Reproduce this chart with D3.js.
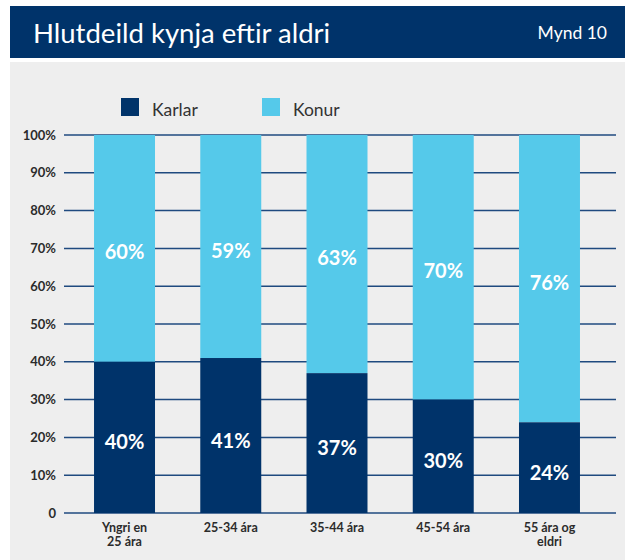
<!DOCTYPE html>
<html>
<head>
<meta charset="utf-8">
<script src="https://cdn.jsdelivr.net/npm/d3@7"></script>
<style>
  body { margin: 0; background: #fff; }
  text { font-family: Lato, "Open Sans", sans-serif; }
</style>
</head>
<body>
<script>
    // chart data
    var categories = ["Yngri en|25 ára", "25-34 ára", "35-44 ára", "45-54 ára", "55 ára og|eldri"];
    var karlar = [40, 41, 37, 30, 24];
    var konur = [60, 59, 63, 70, 76];
    var yTicks = [0, 10, 20, 30, 40, 50, 60, 70, 80, 90, 100];
    var seriesNames = ["Karlar", "Konur"];

    var navy = "#00336a", light = "#55c9ea";
    var w = 625, h = 560;

    var svg = d3.select("body").append("svg")
        .attr("width", w)
        .attr("height", h);

    // header band
    svg.append("rect").attr("x", 10).attr("y", 6).attr("width", 615).attr("height", 52).attr("fill", navy);
    svg.append("text").attr("x", 33).attr("y", 43).attr("fill", "#fff")
        .style("font-size", "27.5px").text("Hlutdeild kynja eftir aldri");
    svg.append("text").attr("x", 607).attr("y", 39).attr("fill", "#fff")
        .attr("text-anchor", "end").style("font-size", "17.5px").text("Mynd 10");

    // gray panel
    svg.append("rect").attr("x", 10).attr("y", 62).attr("width", 615).attr("height", 498).attr("fill", "#eeeeee");

    var x = d3.scaleBand().domain(categories).range([71.4, 602.6]).paddingInner(0.426).paddingOuter(0.213);
    var y = d3.scaleLinear().domain([0, 100]).range([513, 135]);

    // gridlines
    svg.append("g").selectAll("line").data(yTicks).enter().append("line")
        .attr("x1", 64).attr("x2", 616)
        .attr("y1", function (d) { return y(d); })
        .attr("y2", function (d) { return y(d); })
        .attr("stroke", "#1f4a7f").attr("stroke-width", 1.5);

    // y axis labels
    svg.append("g").selectAll("text").data(yTicks).enter().append("text")
        .attr("x", 56)
        .attr("y", function (d) { return y(d) + 4.5; })
        .attr("text-anchor", "end")
        .attr("fill", "#2b2b2b")
        .style("font-size", "13px").style("font-weight", "bold")
        .text(function (d) { return d == 0 ? "0" : d + "%"; });

    var rows = categories.map(function (c, i) { return {cat: c, k: karlar[i], f: konur[i]}; });

    var bars = svg.append("g").selectAll("g").data(rows).enter().append("g");

    bars.append("rect")
        .attr("x", function (d) { return x(d.cat); })
        .attr("width", x.bandwidth())
        .attr("y", function (d) { return y(d.k + d.f); })
        .attr("height", function (d) { return y(d.k) - y(d.k + d.f); })
        .attr("fill", light);

    bars.append("rect")
        .attr("x", function (d) { return x(d.cat); })
        .attr("width", x.bandwidth())
        .attr("y", function (d) { return y(d.k); })
        .attr("height", function (d) { return y(0) - y(d.k); })
        .attr("fill", navy);

    bars.append("text")
        .attr("x", function (d) { return x(d.cat) + x.bandwidth() / 2; })
        .attr("y", function (d) { return (y(d.k) + y(d.k + d.f)) / 2 + 11; })
        .attr("text-anchor", "middle").attr("fill", "#fff")
        .style("font-size", "20px").style("font-weight", "bold")
        .text(function (d) { return d.f + "%"; });

    bars.append("text")
        .attr("x", function (d) { return x(d.cat) + x.bandwidth() / 2; })
        .attr("y", function (d) { return (y(0) + y(d.k)) / 2 + 12; })
        .attr("text-anchor", "middle").attr("fill", "#fff")
        .style("font-size", "20px").style("font-weight", "bold")
        .text(function (d) { return d.k + "%"; });

    // category labels
    var xl = svg.append("g").selectAll("text").data(categories).enter().append("text")
        .attr("text-anchor", "middle")
        .attr("fill", "#2b2b2b")
        .style("font-size", "12.5px").style("font-weight", "bold");
    xl.each(function (d) {
        var t = d3.select(this);
        d.split("|").forEach(function (line, j) {
            t.append("tspan")
                .attr("x", x(d) + x.bandwidth() / 2)
                .attr("y", 532 + j * 14)
                .text(line);
        });
    });

    // legend
    var legendX = [121, 262];
    var lg = svg.append("g").selectAll("g").data(seriesNames).enter().append("g")
        .attr("transform", function (d, i) { return "translate(" + legendX[i] + ",98)"; });
    lg.append("rect").attr("width", 18).attr("height", 18)
        .attr("fill", function (d, i) { return i == 0 ? navy : light; });
    lg.append("text").attr("x", 31).attr("y", 18)
        .attr("fill", "#333").style("font-size", "17.5px")
        .text(function (d) { return d; });
</script>
</body>
</html>
